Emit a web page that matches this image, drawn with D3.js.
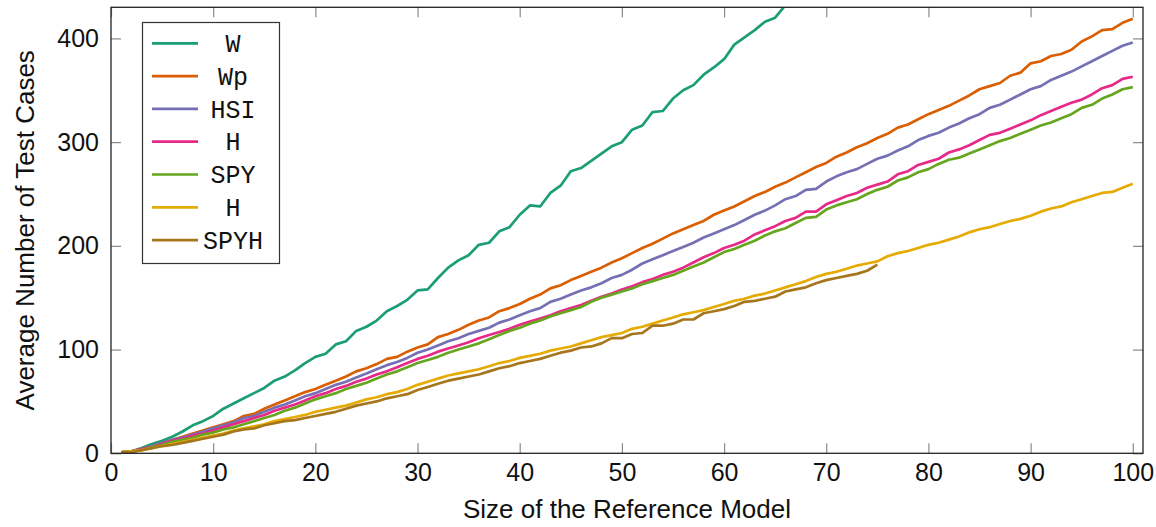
<!DOCTYPE html>
<html>
<head>
<meta charset="utf-8">
<script src="https://cdn.jsdelivr.net/npm/d3@7"></script>
<style>
  body { margin: 0; background: #fff; }
  text { font-family: "Liberation Sans", sans-serif; fill: #111; }
</style>
</head>
<body>
<svg id="chart" width="1156" height="527"></svg>
<script>
// average number of test cases, per size of the reference model (size 1, 2, 3, ...)
const W = [1,2,5,9,12,16,21,27,31,36,43,48,53,58,63,70,74,80,87,93,96,105,108,118,122,128,137,142,148,157,158,169,179,186,191,201,203,214,218,230,239,238,251,258,272,275,282,289,296,300,312,316,329,330,342,350,355,365,372,380,394,401,408,416,420,432,440];
const Wp = [1,2,4,7,10,13,16,19,22,25,28,31,36,38,43,47,51,55,59,62,66,70,74,79,82,86,91,93,98,102,105,112,115,119,124,128,131,137,140,144,149,153,159,162,167,171,175,179,184,188,193,198,202,207,212,216,220,224,230,234,238,243,248,252,257,261,266,271,276,280,286,290,295,299,304,308,314,317,322,327,331,335,340,345,351,354,357,364,367,376,378,383,385,389,397,402,408,409,415,419];
const HSI = [1,2,4,7,10,13,15,18,21,24,27,30,34,36,40,44,47,51,55,58,62,66,69,73,77,81,85,88,92,97,100,104,108,111,115,118,121,126,129,133,137,140,146,149,153,157,160,164,169,172,177,183,187,191,195,199,203,208,212,216,220,225,230,234,239,245,248,254,255,262,267,271,274,279,284,287,292,296,302,306,309,314,318,323,327,333,336,341,346,351,354,360,364,368,373,378,383,388,393,396];
const H1 = [1,2,4,6,9,12,14,17,19,22,25,28,31,34,37,41,44,47,51,55,58,62,65,69,72,76,79,83,87,91,94,98,101,104,107,111,114,117,120,124,127,130,133,137,140,143,147,151,154,158,161,165,168,172,175,179,184,189,193,198,201,205,211,215,219,224,227,233,233,240,244,248,251,256,259,262,269,272,278,281,284,290,293,297,302,307,309,313,317,321,326,330,334,338,341,346,352,355,361,363];
const SPY = [1,2,3,6,8,11,13,15,18,20,23,25,28,31,34,37,41,44,48,52,55,58,62,65,68,72,76,79,83,87,90,93,97,100,103,106,110,114,118,121,125,128,132,135,138,141,146,150,153,156,159,163,166,169,172,176,180,184,189,194,197,201,205,210,214,217,222,227,228,235,239,242,245,250,254,257,263,266,271,274,279,283,285,289,293,297,301,304,308,312,316,319,323,327,333,336,342,346,351,353];
const H2 = [1,2,3,5,7,9,11,13,15,17,19,22,24,26,28,31,33,35,37,40,42,44,46,49,52,54,57,59,62,66,69,72,75,77,79,81,84,87,89,92,94,96,99,101,103,106,109,112,114,116,120,122,125,128,131,134,136,138,141,144,147,149,152,154,157,160,163,166,170,173,175,178,181,183,185,190,193,195,198,201,203,206,209,213,216,218,221,224,226,229,233,236,238,242,245,248,251,252,256,260];
const SPYH = [1,1,3,5,7,8,10,12,14,16,18,21,23,24,27,29,31,32,34,36,38,40,43,46,48,50,53,55,57,61,64,67,70,72,74,76,79,82,84,87,89,91,94,97,99,102,103,106,111,111,115,116,123,123,125,129,129,135,137,139,142,146,147,149,151,156,158,160,164,167,169,171,173,176,182];

const seriesNames = ["W", "Wp", "HSI", "H", "SPY", "H", "SPYH"];
const seriesValues = [W, Wp, HSI, H1, SPY, H2, SPYH];
const colors = ["#1b9e77", "#d95f02", "#7570b3", "#e7298a", "#66a61e", "#e6ab02", "#a6761d"];
const xTicks = [0, 10, 20, 30, 40, 50, 60, 70, 80, 90, 100];
const yTicks = [0, 100, 200, 300, 400];

const m = { left: 111, right: 1143, top: 7.3, bottom: 453.3 };

const svg = d3.select("#chart");

const x = d3.scaleLinear().domain([0, 101]).range([m.left, m.right]);
const y = d3.scaleLinear().domain([0, 430]).range([m.bottom, m.top]);

svg.append("defs").append("clipPath").attr("id", "plot-area")
  .append("rect")
  .attr("x", m.left).attr("y", m.top)
  .attr("width", m.right - m.left).attr("height", m.bottom - m.top);

// ticks (inward, grey) plus labels
const tickColor = "#8a8a8a";

const gx = svg.append("g")
  .attr("transform", "translate(0," + m.bottom + ")")
  .call(d3.axisBottom(x).tickValues(xTicks).tickSize(-10).tickPadding(10));
gx.selectAll("text").style("font-size", "25px").attr("font-family", "Liberation Sans");

svg.append("g")
  .attr("transform", "translate(0," + m.top + ")")
  .call(d3.axisTop(x).tickValues(xTicks).tickSize(-10).tickFormat(""));

const gy = svg.append("g")
  .attr("transform", "translate(" + m.left + ",0)")
  .call(d3.axisLeft(y).tickValues(yTicks).tickSize(-10).tickPadding(12));
gy.selectAll("text").style("font-size", "25px").attr("font-family", "Liberation Sans");

svg.append("g")
  .attr("transform", "translate(" + m.right + ",0)")
  .call(d3.axisRight(y).tickValues(yTicks).tickSize(-10).tickFormat(""));

svg.selectAll(".domain").remove();
svg.selectAll(".tick line").attr("stroke", tickColor).attr("stroke-width", 1.2);
svg.selectAll(".tick text").attr("fill", "#111");

// lines
const line = d3.line()
  .x((d, i) => x(i + 1))
  .y(d => y(d));

svg.append("g").attr("clip-path", "url(#plot-area)")
  .selectAll("path")
  .data(seriesValues)
  .join("path")
  .attr("fill", "none")
  .attr("stroke", (d, i) => colors[i])
  .attr("stroke-width", 2.7)
  .attr("stroke-linejoin", "round")
  .attr("d", line);

// frame
svg.append("rect")
  .attr("x", m.left).attr("y", m.top)
  .attr("width", m.right - m.left).attr("height", m.bottom - m.top)
  .attr("fill", "none")
  .attr("stroke", "#222")
  .attr("stroke-width", 1.3);

// axis titles
svg.append("text")
  .attr("x", (m.left + m.right) / 2)
  .attr("y", 518)
  .attr("text-anchor", "middle")
  .style("font-size", "26px")
  .text("Size of the Reference Model");

svg.append("text")
  .attr("transform", "translate(34," + (m.top + m.bottom) / 2 + ") rotate(-90)")
  .attr("text-anchor", "middle")
  .style("font-size", "26px")
  .text("Average Number of Test Cases");

// legend
const legend = svg.append("g");
legend.append("rect")
  .attr("x", 142.5).attr("y", 22.5)
  .attr("width", 137).attr("height", 241)
  .attr("fill", "#fff")
  .attr("stroke", "#333")
  .attr("stroke-width", 1.2);

const entry = legend.selectAll("g.entry")
  .data(seriesNames)
  .join("g")
  .attr("class", "entry")
  .attr("transform", (d, i) => "translate(0," + (43.3 + i * 32.8) + ")");

entry.append("line")
  .attr("x1", 152).attr("x2", 198)
  .attr("stroke", (d, i) => colors[i])
  .attr("stroke-width", 2.7);

entry.append("text")
  .attr("x", 233)
  .attr("dy", "0.35em")
  .attr("text-anchor", "middle")
  .style("font-family", "'Liberation Mono', monospace")
  .style("font-size", "25px")
  .text(d => d);
</script>
</body>
</html>
